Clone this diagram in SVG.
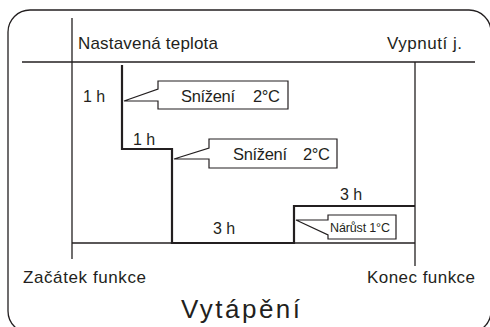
<svg xmlns="http://www.w3.org/2000/svg" width="490" height="327" viewBox="0 0 490 327">
<style>
.t{font-family:"Liberation Sans",Arial,sans-serif;fill:#231f20}
.thin{fill:none;stroke:#231f20;stroke-width:1.3}
.bold{fill:none;stroke:#231f20;stroke-width:2.2}
.co{fill:#fff;stroke:#231f20;stroke-width:1.2}
</style>
<rect width="490" height="327" fill="#fff"/>
<rect x="8" y="10" width="483" height="323" rx="22" ry="22" class="thin"/>
<g id="connectors">
<path class="thin" d="M22,62 H475"/>
<path class="thin" d="M72,18 V259"/>
<path class="thin" d="M415,62 V266"/>
<path class="thin" d="M72,243 H415"/>
<path class="bold" d="M122,65 V149 H172 V243 H294 V206 H415"/>
</g>
<g id="labels">
<text class="t" x="78" y="49" font-size="17" textLength="140">Nastavená teplota</text>
<text class="t" x="387" y="49" font-size="17" textLength="75">Vypnutí j.</text>
<text class="t" x="23" y="283" font-size="17" textLength="123">Začátek funkce</text>
<text class="t" x="367" y="283" font-size="17" textLength="108">Konec funkce</text>
<text class="t" x="181" y="318" font-size="26" textLength="119">Vytápění</text>
<text class="t" x="83" y="102" font-size="16">1 h</text>
<text class="t" x="133" y="145" font-size="16">1 h</text>
<text class="t" x="213" y="234" font-size="16">3 h</text>
<text class="t" x="340" y="200" font-size="16">3 h</text>
</g>
<g id="callout1">
<path class="co" d="M158,81 H288 V109 H158 V101 L124,101 L158,89 Z"/>
<text class="t" x="181" y="102" font-size="16.5" textLength="54">Snížení</text>
<text class="t" x="253" y="102" font-size="16.5" textLength="27">2°C</text>
</g>
<g id="callout2">
<path class="co" d="M209,139 H337 V168 H209 V159 L174,159 L209,148 Z"/>
<text class="t" x="233" y="160" font-size="16.5" textLength="54">Snížení</text>
<text class="t" x="303" y="160" font-size="16.5" textLength="27">2°C</text>
</g>
<g id="callout3">
<path class="co" d="M328,215 H396 V239 H328 V235 L296,220 L328,220 Z"/>
<text class="t" x="330" y="232" font-size="12.5" textLength="60">Nárůst 1°C</text>
</g>
</svg>
